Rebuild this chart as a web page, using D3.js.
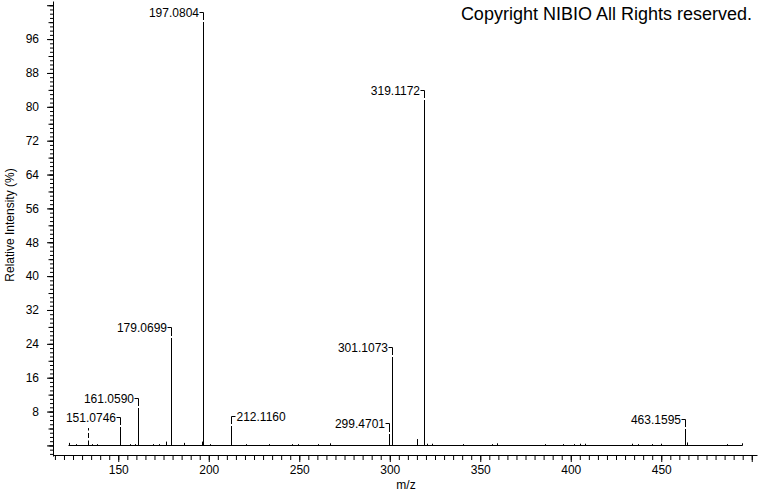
<!DOCTYPE html>
<html><head><meta charset="utf-8">
<script src="https://cdn.jsdelivr.net/npm/d3@7"></script>
<style>html,body{margin:0;padding:0;background:#fff;} svg{display:block;} text{font-family:"Liberation Sans",Arial,sans-serif;}</style>
</head><body><svg id="c" width="760" height="492"></svg>
<script>
// Annotated peaks
const labeledMz  = [151.0746, 161.0590, 179.0699, 197.0804, 212.1160, 299.4701, 301.1073, 319.1172, 463.1595];
const labeledInt = [4.3, 8.8, 25.4, 100, 4.5, 2.7, 20.8, 81.6, 3.8];
const labelSide  = ["left","left","left","left","right","left","left","left","left"];
// Small unannotated peaks
const minorMz  = [122.9, 126.6, 135.3, 138.0, 156.5, 159.2, 169.0, 172.7, 176.2, 186.5, 196.1, 200.7, 220.4, 233.4, 245.8, 249.4, 260.5, 267.2, 315.2, 320.3, 323.2, 340.3, 356.3, 359.3, 385.7, 395.9, 401.6, 405.1, 407.9, 433.6, 437.0, 444.7, 449.6, 464.2, 486.4, 494.6];
const minorInt = [0.6, 0.3, 0.3, 0.3, 0.3, 0.3, 0.3, 0.3, 0.9, 0.6, 0.9, 0.3, 0.3, 0.3, 0.3, 0.3, 0.3, 0.5, 1.5, 0.4, 0.4, 0.3, 0.3, 0.5, 0.3, 0.3, 0.3, 0.4, 0.4, 0.4, 0.3, 0.3, 0.4, 0.7, 0.3, 0.5];
// Dashed peak
const dashedMz  = [133.4];
const dashedInt = [4.1];
// Baseline extent
const baselineMz = [122.3, 494.6];
// Tick labels
const xTickLabels = [150, 200, 250, 300, 350, 400, 450];
const yTickLabels = [8, 16, 24, 32, 40, 48, 56, 64, 72, 80, 88, 96];
const xTitle = "m/z";
const yTitle = "Relative Intensity (%)";
const copyright = "Copyright NIBIO All Rights reserved.";

const svg = d3.select("#c");
const FONT = '"Liberation Sans", Arial, sans-serif';
const x = d3.scaleLinear().domain([114.1, 502.9]).range([53.3, 757]);
const y = d3.scaleLinear().domain([-2.5, 105]).range([456, 1]);

function style(g){ g.attr("font-size", 12).attr("font-family", FONT).attr("color", "#000"); g.selectAll("text").attr("fill","#000"); }

// X axis
svg.append("g").attr("transform","translate(0,455)")
  .call(d3.axisBottom(x).tickValues(d3.range(115, 503, 5)).tickSize(5).tickSizeOuter(0).tickFormat(""))
  .call(style);
svg.append("g").attr("transform","translate(0,455)")
  .call(d3.axisBottom(x).tickValues(d3.range(150, 501, 50)).tickSize(7).tickSizeOuter(0).tickPadding(3)
    .tickFormat(d => xTickLabels.includes(d) ? String(d) : ""))
  .call(g => g.select(".domain").remove())
  .call(style);

// Y axis
svg.append("g").attr("transform","translate(53,0)")
  .call(d3.axisLeft(y).tickValues(d3.range(-2, 105, 1)).tickSize(3).tickSizeOuter(0).tickFormat(""))
  .call(style);
svg.append("g").attr("transform","translate(53,0)")
  .call(d3.axisLeft(y).tickValues(d3.range(0, 105, 4)).tickSize(4.5).tickSizeOuter(0).tickFormat(""))
  .call(g => g.select(".domain").remove())
  .call(style);
svg.append("g").attr("transform","translate(53,0)")
  .call(d3.axisLeft(y).tickValues(d3.range(0, 105, 8)).tickSize(6).tickSizeOuter(0).tickPadding(8)
    .tickFormat(d => yTickLabels.includes(d) ? String(d) : ""))
  .call(g => g.select(".domain").remove())
  .call(style);

// Titles
svg.append("text").attr("x", 406).attr("y", 489).attr("text-anchor","middle")
  .attr("font-size", 12).attr("font-family", FONT).text(xTitle);
svg.append("text").attr("transform","translate(14,225) rotate(-90)").attr("text-anchor","middle")
  .attr("font-size", 12).attr("font-family", FONT).text(yTitle);
svg.append("text").attr("x", 752).attr("y", 20).attr("text-anchor","end")
  .attr("font-size", 18).attr("font-family", FONT).text(copyright);

const cx = v => Math.round(x(v)) + 0.5;
const cy = v => Math.round(y(v)) + 0.5;

// Baseline
svg.append("line").attr("x1", cx(baselineMz[0])).attr("x2", cx(baselineMz[1]))
  .attr("y1", cy(0)).attr("y2", cy(0)).attr("stroke","#000").attr("stroke-width",1);

const g = svg.append("g").attr("stroke","#000").attr("stroke-width",1);
// Minor peaks
g.selectAll(".mp").data(minorMz).join("line").attr("class","mp")
  .attr("x1", d => cx(d)).attr("x2", d => cx(d))
  .attr("y1", cy(0)).attr("y2", (d,i) => y(minorInt[i]));
// Dashed peak
g.selectAll(".dp").data(dashedMz).join("line").attr("class","dp")
  .attr("x1", d => cx(d)).attr("x2", d => cx(d))
  .attr("y1", cy(0)).attr("y2", (d,i) => y(dashedInt[i])).attr("stroke-dasharray","5,2.5");
// Labeled peaks
g.selectAll(".lp").data(labeledMz).join("line").attr("class","lp")
  .attr("x1", d => cx(d)).attr("x2", d => cx(d))
  .attr("y1", cy(0)).attr("y2", (d,i) => Math.round(y(labeledInt[i])));

// Labels with bracket connectors
labeledMz.forEach((mz, i) => {
  const px = cx(mz);
  const top = y(labeledInt[i]);
  const ty = Math.round(top - 10.5) + 0.5;
  if (labelSide[i] === "left") {
    svg.append("path").attr("d", `M${px-4},${ty}H${px}V${Math.round(top)-2}`)
      .attr("fill","none").attr("stroke","#000");
    svg.append("text").attr("x", px - 4.5).attr("y", ty + 4.5).attr("text-anchor","end")
      .attr("font-size", 12).attr("font-family", FONT).text(mz.toFixed(4));
  } else {
    svg.append("path").attr("d", `M${px},${Math.round(top)-2}V${ty}H${px+4}`)
      .attr("fill","none").attr("stroke","#000");
    svg.append("text").attr("x", px + 5).attr("y", ty + 4.5).attr("text-anchor","start")
      .attr("font-size", 12).attr("font-family", FONT).text(mz.toFixed(4));
  }
});
</script></body></html>
